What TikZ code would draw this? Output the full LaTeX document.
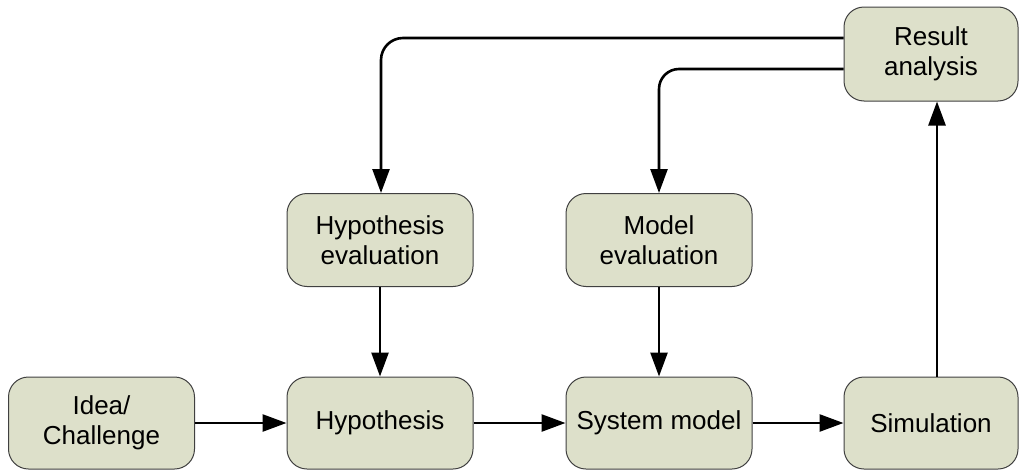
\documentclass[tikz,border=0pt]{standalone}
\usepackage{fontspec}
\setmainfont{Liberation Sans}
\usetikzlibrary{arrows.meta}
\definecolor{boxfill}{HTML}{DDE0CA}
\definecolor{boxline}{HTML}{404040}
\tikzset{
  stepbox/.style={draw=boxline, line width=1pt, fill=boxfill, rounded corners=20pt,
    minimum width=186pt, minimum height=92pt, inner sep=0pt, align=center,
    font=\fontsize{26}{30}\selectfont},
  flow/.style={line width=2.6pt, -{Triangle[length=24pt,width=17pt]}}
}
\begin{document}
\begin{tikzpicture}[x=1pt,y=-1pt]
\useasboundingbox (0,0) rectangle (1020,471);
% bottom row
\node[stepbox] (idea) at (101.5,423) {Idea/\\Challenge};
\node[stepbox] (hyp) at (380,423) {Hypothesis};
\node[stepbox] (sys) at (659,423) {System model};
\node[stepbox, minimum width=174pt] (sim) at (931,423) {Simulation};
% evaluation row
\node[stepbox, minimum height=93pt] (hypeval) at (380,240) {Hypothesis\\evaluation};
\node[stepbox, minimum height=93pt] (modeval) at (659,240) {Model\\evaluation};
% analysis
\node[stepbox, minimum width=174pt, minimum height=94pt] (res) at (931,54) {Result\\analysis};
% main flow
\draw[flow] (idea) -- (hyp);
\draw[flow] (hyp) -- (sys);
\draw[flow] (sys) -- (sim);
\draw[flow] ([xshift=6pt]sim.north) -- ([xshift=6pt]res.south);
\draw[flow] (hypeval) -- (hyp);
\draw[flow] (modeval) -- (sys);
% feedback from the analysis
\draw[flow, rounded corners=22pt] ([yshift=16pt]res.west) -| ([xshift=1pt]hypeval.north);
\draw[flow, rounded corners=20pt] ([yshift=-15pt]res.west) -| (modeval.north);
\end{tikzpicture}
\end{document}
